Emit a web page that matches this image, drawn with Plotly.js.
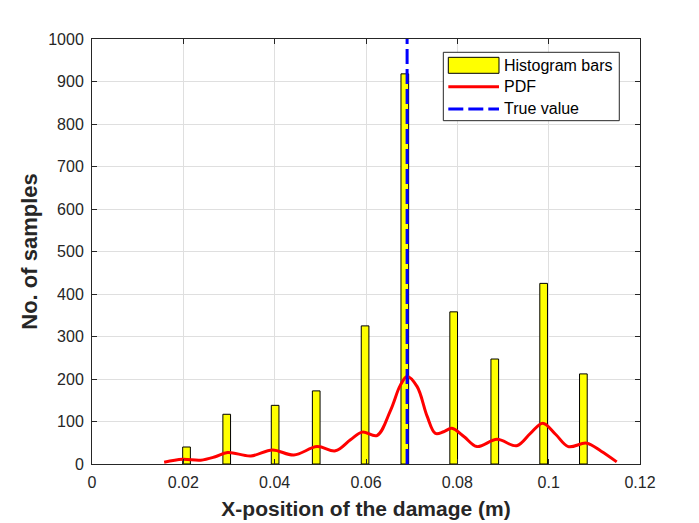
<!DOCTYPE html>
<html><head><meta charset="utf-8">
<script src="https://cdn.plot.ly/plotly-3.0.1.min.js"></script>
<style>body{margin:0;background:#fff}#c{width:699px;height:523px}</style>
</head><body><div id="c"></div>
<script>
const binCenters = [0.0207, 0.0295, 0.0401, 0.0491, 0.0598, 0.0685, 0.0792, 0.0882, 0.0989, 0.1076];
const binCounts  = [40, 117, 138, 172, 325, 918, 358, 247, 425, 212];
const pdfX = [0.0158, 0.0198, 0.0238, 0.0270, 0.0297, 0.0348, 0.0395, 0.0442, 0.0493, 0.0533, 0.0566, 0.0592, 0.0624, 0.0654, 0.0675, 0.0690, 0.0712, 0.0734, 0.0752, 0.0770, 0.0788, 0.0815, 0.0843, 0.0887, 0.0930, 0.0960, 0.0987, 0.1015, 0.1043, 0.1083, 0.1115, 0.1149];
const pdfY = [4, 11, 9, 17, 27, 19, 33, 21, 41, 31, 57, 75, 67, 127, 185, 206, 182, 112, 72, 76, 84, 64, 41, 58, 43, 72, 96, 70, 41, 49, 30, 5];
const trueValue = 0.069;
const xTicks = [0, 0.02, 0.04, 0.06, 0.08, 0.1, 0.12];
const xTickLabels = ['0', '0.02', '0.04', '0.06', '0.08', '0.1', '0.12'];
const legendLabels = ['Histogram bars', 'PDF', 'True value'];

const FONT = 'Liberation Sans, Arial, Helvetica, sans-serif';
const BAR_COLOR = '#ffff00', PDF_COLOR = '#ff0000', TRUE_COLOR = '#0000ff';
const traces = [
  {type:'bar', x:binCenters, y:binCounts, width:0.00168, name:legendLabels[0],
   marker:{color:BAR_COLOR, line:{color:'#000', width:1}}},
  {type:'scatter', mode:'lines', x:pdfX, y:pdfY, name:legendLabels[1], line:{color:PDF_COLOR, width:3, shape:'spline', smoothing:1}},
  {type:'scatter', mode:'lines', x:[trueValue, trueValue], y:[0, 1000], name:legendLabels[2], line:{color:TRUE_COLOR, width:3, dash:'15px,5px'}}
];

// legend drawn as a box (paper coordinates = plot area)
const LG = {x0:0.6411, x1:0.9622, y0:0.8078, y1:0.9687, sx0:0.6502, sx1:0.7427, tx:0.7487, rows:[0.9381, 0.8878, 0.8353]};
const shapes = [
  {type:'rect', xref:'paper', yref:'paper', x0:LG.x0, x1:LG.x1, y0:LG.y0, y1:LG.y1, fillcolor:'#fff', line:{color:'#262626', width:1}, layer:'above'},
  {type:'rect', xref:'paper', yref:'paper', x0:LG.sx0, x1:LG.sx1, y0:0.9193, y1:0.9569, fillcolor:BAR_COLOR, line:{color:'#000', width:1}, layer:'above'},
  {type:'line', xref:'paper', yref:'paper', x0:LG.sx0, x1:LG.sx1, y0:LG.rows[1], y1:LG.rows[1], line:{color:PDF_COLOR, width:3}, layer:'above'},
  {type:'line', xref:'paper', yref:'paper', x0:LG.sx0, x1:LG.sx1, y0:LG.rows[2], y1:LG.rows[2], line:{color:TRUE_COLOR, width:3, dash:'15px,5px'}, layer:'above'}
];
const annotations = legendLabels.map((t, i) => ({xref:'paper', yref:'paper', x:LG.tx, y:LG.rows[i], text:t, showarrow:false,
  xanchor:'left', yanchor:'middle', font:{family:FONT, size:16, color:'#000'}}));

const axisCommon = {showline:true, linecolor:'#262626', linewidth:1, mirror:'ticks', ticks:'inside', ticklen:5, tickcolor:'#262626',
  showgrid:true, gridcolor:'#dfdfdf', gridwidth:1, zeroline:false, tickfont:{family:FONT, size:16, color:'#262626'}};
const layout = {
  width:699, height:523, margin:{l:92, r:59, t:39, b:59}, paper_bgcolor:'#fff', plot_bgcolor:'#fff',
  showlegend:false, bargap:0, shapes:shapes, annotations:annotations,
  xaxis:Object.assign({}, axisCommon, {range:[0,0.12], tickvals:xTicks, ticktext:xTickLabels, ticklabelstandoff:4,
    title:{text:'<b>X-position of the damage (m)</b>', font:{family:FONT, size:21, color:'#262626'}, standoff:11}}),
  yaxis:Object.assign({}, axisCommon, {range:[0,1000], dtick:100, ticklabelstandoff:4,
    title:{text:'<b>No. of samples</b>', font:{family:FONT, size:22, color:'#262626'}, standoff:4}})
};
Plotly.newPlot('c', traces, layout, {displayModeBar:false, staticPlot:true});
</script></body></html>
